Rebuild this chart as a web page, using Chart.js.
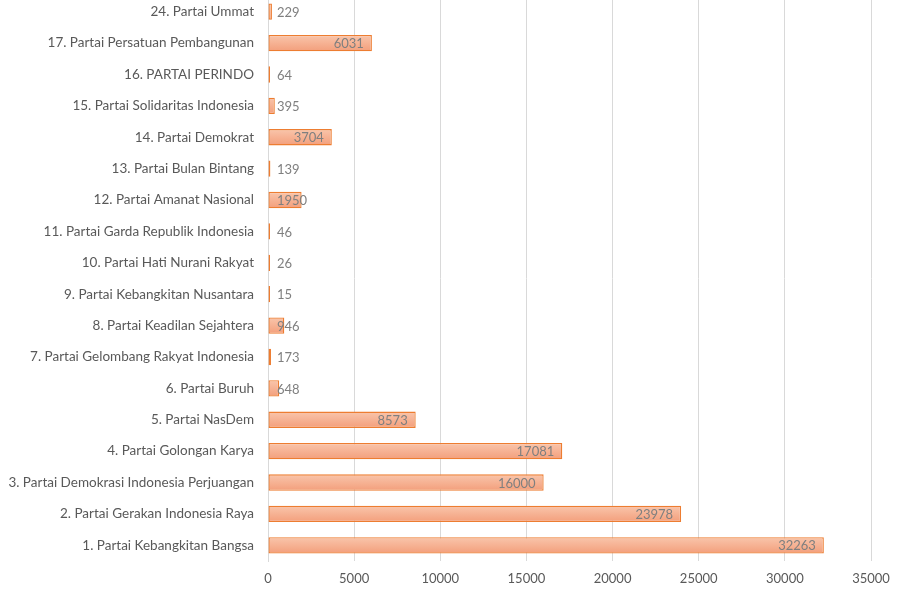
<!DOCTYPE html>
<html>
<head>
<meta charset="utf-8">
<script src="https://cdn.jsdelivr.net/npm/chart.js@4.4.1/dist/chart.umd.min.js"></script>
<style>
html,body{margin:0;padding:0;background:#fff;overflow:hidden;}
#wrap{position:absolute;left:0;top:-4px;width:902px;height:597px;}
</style>
</head>
<body>
<div id="wrap"><canvas id="c"></canvas></div>
<script>
const categories = [
  "1. Partai Kebangkitan Bangsa",
  "2. Partai Gerakan Indonesia Raya",
  "3. Partai Demokrasi Indonesia Perjuangan",
  "4. Partai Golongan Karya",
  "5. Partai NasDem",
  "6. Partai Buruh",
  "7. Partai Gelombang Rakyat Indonesia",
  "8. Partai Keadilan Sejahtera",
  "9. Partai Kebangkitan Nusantara",
  "10. Partai Hati Nurani Rakyat",
  "11. Partai Garda Republik Indonesia",
  "12. Partai Amanat Nasional",
  "13. Partai Bulan Bintang",
  "14. Partai Demokrat",
  "15. Partai Solidaritas Indonesia",
  "16. PARTAI PERINDO",
  "17. Partai Persatuan Pembangunan",
  "24. Partai Ummat"
];
const votes = [32263, 23978, 16000, 17081, 8573, 648, 173, 946, 15, 26, 46, 1950, 139, 3704, 395, 64, 6031, 229];
const xTicks = [0, 5000, 10000, 15000, 20000, 25000, 30000, 35000];

const FONT = "Lato, 'Open Sans', sans-serif";

const labelPlugin = {
  id: 'barLabels',
  afterDatasetsDraw(chart) {
    const ctx = chart.ctx;
    const meta = chart.getDatasetMeta(0);
    const x0 = chart.scales.x.getPixelForValue(0);
    ctx.save();
    ctx.font = "13px " + FONT;
    ctx.fillStyle = "#7f7f7f";
    ctx.textBaseline = "middle";
    ctx.textAlign = "left";
    meta.data.forEach((bar, i) => {
      const txt = String(votes[i]);
      const w = ctx.measureText(txt).width;
      let x = bar.x - 8 - w;
      if (x < x0 + 9) x = x0 + 9;
      ctx.fillText(txt, x, bar.y + 1);
    });
    ctx.restore();
  }
};

function barGradient(context) {
  const chart = context.chart;
  const ys = chart.scales && chart.scales.y;
  if (!chart.chartArea || !ys) return '#f6b092';
  const y = ys.getPixelForValue(context.dataIndex);
  const g = chart.ctx.createLinearGradient(0, y - 8, 0, y + 8);
  g.addColorStop(0, '#f9c5ab');
  g.addColorStop(1, '#f39f7c');
  return g;
}

new Chart(document.getElementById('c'), {
  type: 'bar',
  data: {
    labels: categories,
    datasets: [{
      data: votes,
      backgroundColor: barGradient,
      borderColor: '#ed7d31',
      borderWidth: 1.3,
      borderSkipped: false,
      minBarLength: 2,
      categoryPercentage: 1,
      barPercentage: 0.52
    }]
  },
  options: {
    indexAxis: 'y',
    responsive: true,
    maintainAspectRatio: false,
    animation: false,
    layout: { padding: { left: 0, right: 31, top: 0, bottom: 0 } },
    plugins: { legend: { display: false }, tooltip: { enabled: false } },
    scales: {
      x: {
        min: 0, max: 35000,
        afterBuildTicks(scale) { scale.ticks = xTicks.map(v => ({ value: v })); },
        afterFit(scale) { scale.height = 32; },
        grid: { color: '#d9d9d9', lineWidth: 1, drawTicks: false },
        border: { display: false },
        ticks: { color: '#595959', font: { family: FONT, size: 13 }, padding: 10, maxRotation: 0,
                 callback: (v) => String(v) }
      },
      y: {
        reverse: true,
        afterFit(scale) { scale.width = 268; scale.paddingTop = 0; scale.paddingBottom = 0; },
        grid: { display: false, drawTicks: false },
        border: { display: true, color: '#d9d9d9', width: 1 },
        ticks: { color: '#595959', font: { family: FONT, size: 13.5 }, padding: 14, autoSkip: false }
      }
    }
  },
  plugins: [labelPlugin]
});
</script>
</body>
</html>
